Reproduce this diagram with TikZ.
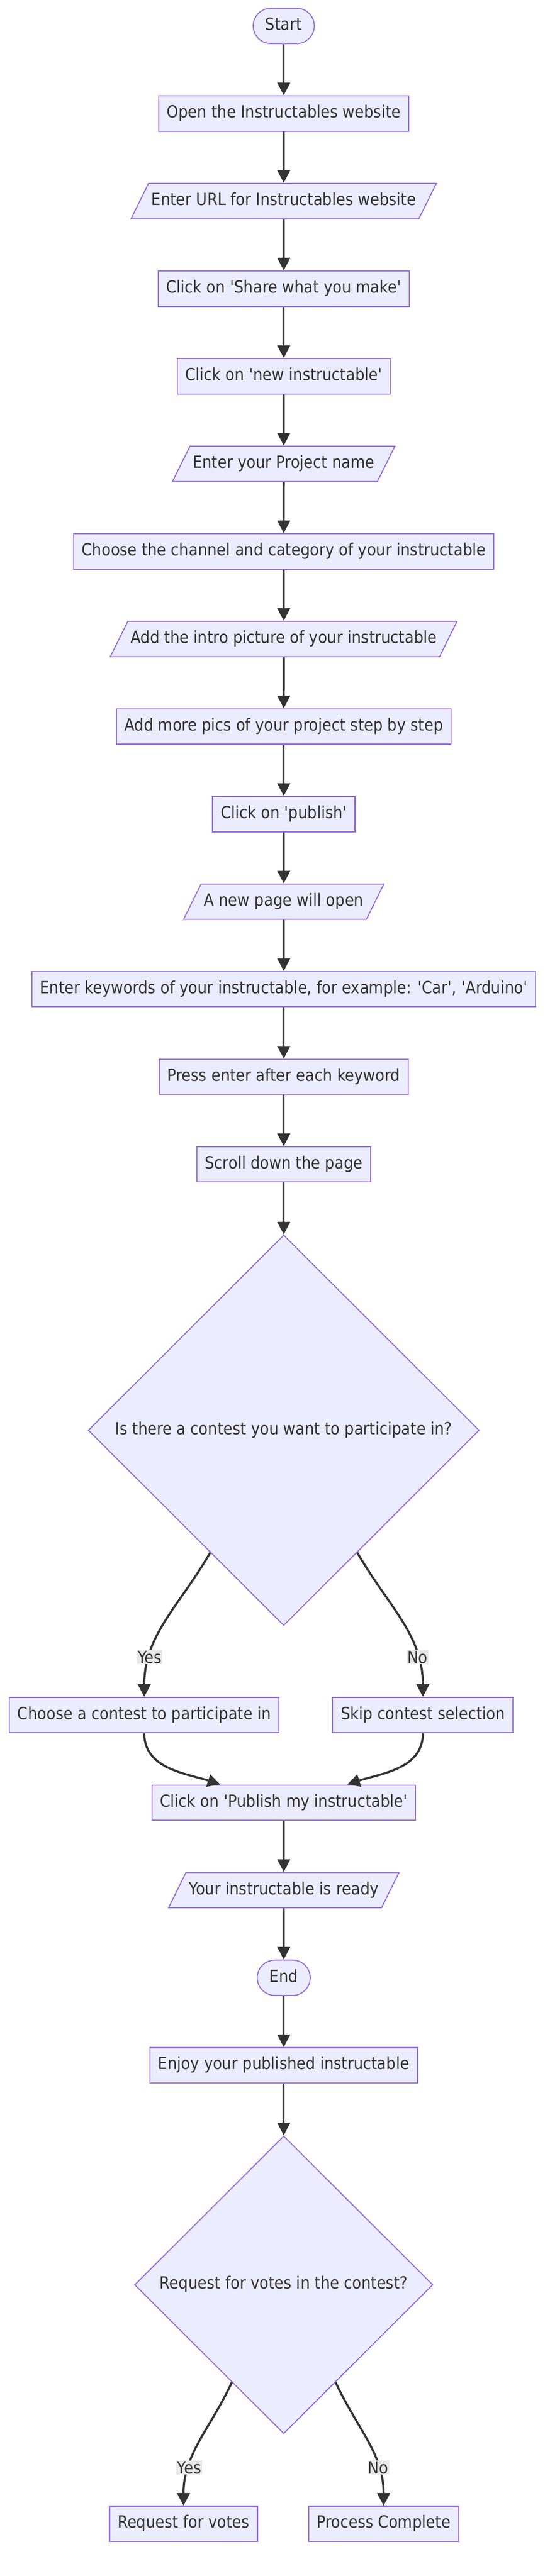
\documentclass[tikz,border=0pt]{standalone}
\usepackage{fontspec}
\setmainfont{DejaVu Sans}[FakeStretch=0.89, Ligatures=TeXOff]
\usetikzlibrary{positioning, arrows.meta, shapes.geometric}

\definecolor{nodefill}{HTML}{ECECFF}
\definecolor{nodeline}{HTML}{9370DB}
\definecolor{inkgray}{HTML}{333333}
\definecolor{lblfill}{HTML}{E8E8E8}

\begin{document}
\begin{tikzpicture}[
    node distance=36.5pt,
    base/.style={draw=nodeline, fill=nodefill, line width=0.75pt, text=inkgray, text height=9pt, text depth=3pt, inner ysep=6.625pt},
    process/.style={base, rectangle, inner xsep=5.75pt},
    io/.style={base, trapezium, trapezium left angle=63.7, trapezium right angle=116.3, inner xsep=2pt},
    terminal/.style={base, rectangle, rounded corners=12.6pt, inner xsep=8.75pt},
    decision/.style={base, diamond, aspect=1, inner sep=0pt},
    flow/.style={->, >={Triangle[length=9pt, width=9pt]}, line width=1.5pt, draw=inkgray},
    lbl/.style={fill=lblfill, text=inkgray, inner sep=0.5pt},
    every node/.style={font=\fontsize{12}{14.4}\selectfont}
]
\useasboundingbox (0,0) rectangle (392pt,-1838.5pt);

% Nodes
\node[terminal] (start) at (202.4pt,-18.5pt) {Start};
\node[process, below=of start] (open) {Open the Instructables website};
\node[io, below=of open] (url) {Enter URL for Instructables website};
\node[process, below=of url] (share) {Click on 'Share what you make'};
\node[process, below=of share] (newinst) {Click on 'new instructable'};
\node[io, below=of newinst] (projname) {Enter your Project name};
\node[process, below=of projname] (channel) {Choose the channel and category of your instructable};
\node[io, below=of channel] (intro) {Add the intro picture of your instructable};
\node[process, below=of intro] (pics) {Add more pics of your project step by step};
\node[process, below=of pics] (publish) {Click on 'publish'};
\node[io, below=of publish] (newpage) {A new page will open};
\node[process, below=of newpage] (keywords) {Enter keywords of your instructable, for example: 'Car', 'Arduino'};
\node[process, below=of keywords] (press) {Press enter after each keyword};
\node[process, below=of press] (scroll) {Scroll down the page};
\node[decision, below=37pt of scroll, minimum width=279pt, minimum height=278.75pt] (contest) {Is there a contest you want to participate in?};
\node[process, below=50.5pt of contest, xshift=-99.5pt] (pick) {Choose a contest to participate in};
\node[process, below=50.5pt of contest, xshift=99.25pt] (skip) {Skip contest selection};
\coordinate (join) at (pick.south -| contest.south);
\node[process, below=of join] (pubmy) {Click on 'Publish my instructable'};
\node[io, below=of pubmy] (ready) {Your instructable is ready};
\node[terminal, below=of ready] (end) {End};
\node[process, below=of end] (enjoy) {Enjoy your published instructable};
\node[decision, below=37pt of enjoy, minimum width=212.75pt, minimum height=212.5pt] (votes) {Request for votes in the contest?};
\node[process, below=51pt of votes, xshift=-71.5pt] (askvotes) {Request for votes};
\node[process, below=51pt of votes, xshift=71.25pt] (complete) {Process Complete};

% Edges
\draw[flow] (start) -- (open);
\draw[flow] (open) -- (url);
\draw[flow] (url) -- (share);
\draw[flow] (share) -- (newinst);
\draw[flow] (newinst) -- (projname);
\draw[flow] (projname) -- (channel);
\draw[flow] (channel) -- (intro);
\draw[flow] (intro) -- (pics);
\draw[flow] (pics) -- (publish);
\draw[flow] (publish) -- (newpage);
\draw[flow] (newpage) -- (keywords);
\draw[flow] (keywords) -- (press);
\draw[flow] (press) -- (scroll);
\draw[flow] (scroll) -- (contest);
\draw[flow] (contest.-121) to[out=-120, in=90] node[lbl, pos=0.76] {Yes} (pick.north);
\draw[flow] (contest.-59) to[out=-60, in=90] node[lbl, pos=0.76] {No} (skip.north);
\draw[flow] (pick.south) to[out=-90, in=162] (pubmy.164);
\draw[flow] (skip.south) to[out=-90, in=18] (pubmy.16);
\draw[flow] (pubmy) -- (ready);
\draw[flow] (ready) -- (end);
\draw[flow] (end) -- (enjoy);
\draw[flow] (enjoy) -- (votes);
\draw[flow] (votes.-118) to[out=-115, in=90] node[lbl, pos=0.72] {Yes} (askvotes.north);
\draw[flow] (votes.-62) to[out=-65, in=90] node[lbl, pos=0.72] {No} (complete.north);

\end{tikzpicture}
\end{document}
